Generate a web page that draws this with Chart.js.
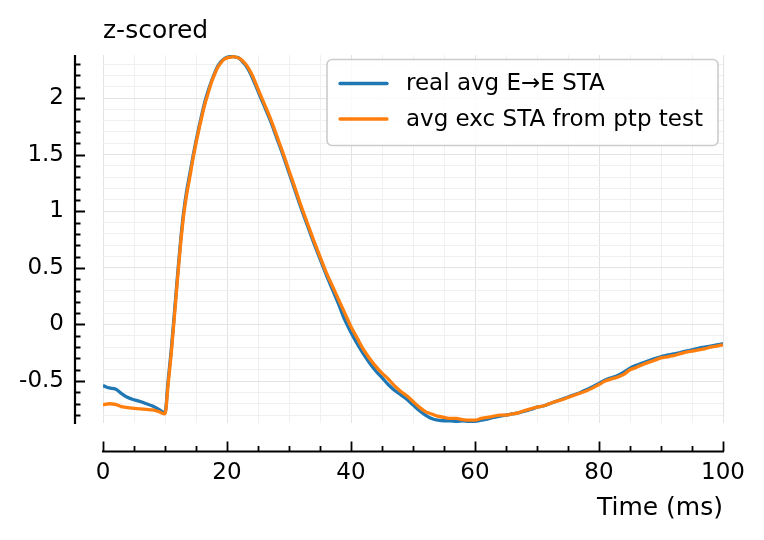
<!DOCTYPE html>
<html>
<head>
<meta charset="utf-8">
<script src="https://cdn.jsdelivr.net/npm/chart.js@4.4.1/dist/chart.umd.min.js"></script>
<style>
  body { margin: 0; background: #fff; }
  #wrap { width: 764px; height: 540px; }
</style>
</head>
<body>
<div id="wrap"><canvas id="myChart" width="764" height="540"></canvas></div>
<script>
// time axis (ms) and the two STA traces
// (half-ms samples through the fast rise and the peak)
const timeMs = [0,1,2,3,4,5,6,7,8,9,
  10,10.5,11,11.5,12,12.5,13,13.5,14,14.5,15,15.5,16,16.5,17,17.5,18,18.5,19,19.5,
  20,20.5,21,21.5,22,22.5,23,23.5,24,
  25,26,27,28,29,30,31,32,33,34,35,36,37,38,39,40,41,42,43,44,45,46,47,48,49,
  50,51,52,53,54,55,56,57,58,59,60,61,62,63,64,65,66,67,68,69,70,71,72,73,74,
  75,76,77,78,79,80,81,82,83,84,85,86,87,88,89,90,91,92,93,94,95,96,97,98,99,100];

const realSTA = [-0.54,-0.56,-0.57,-0.61,-0.645,-0.665,-0.68,-0.70,-0.72,-0.75,
  -0.78,-0.50,-0.23,0.09,0.42,0.73,0.99,1.18,1.33,1.48,1.62,1.75,1.87,1.98,2.07,2.15,2.22,2.28,2.32,2.345,
  2.36,2.365,2.365,2.36,2.35,2.32,2.29,2.245,2.19,
  2.06,1.93,1.80,1.65,1.50,1.34,1.18,1.02,0.87,0.72,0.58,0.44,0.31,0.18,0.04,
  -0.07,-0.17,-0.26,-0.34,-0.41,-0.47,-0.53,-0.58,-0.62,-0.66,
  -0.71,-0.76,-0.80,-0.83,-0.845,-0.85,-0.85,-0.855,-0.85,-0.855,
  -0.855,-0.845,-0.835,-0.82,-0.81,-0.80,-0.79,-0.78,-0.765,-0.75,
  -0.73,-0.72,-0.70,-0.68,-0.66,-0.64,-0.62,-0.60,-0.575,-0.55,
  -0.52,-0.49,-0.47,-0.45,-0.42,-0.385,-0.36,-0.34,-0.32,-0.30,
  -0.285,-0.27,-0.26,-0.25,-0.235,-0.225,-0.21,-0.20,-0.19,-0.18,-0.17];

const ptpSTA = [-0.71,-0.70,-0.705,-0.725,-0.735,-0.74,-0.745,-0.75,-0.755,-0.77,
  -0.79,-0.53,-0.26,0.06,0.39,0.70,0.96,1.15,1.30,1.46,1.60,1.73,1.85,1.96,2.05,2.14,2.21,2.27,2.31,2.34,
  2.355,2.36,2.365,2.36,2.35,2.33,2.30,2.26,2.21,
  2.08,1.95,1.82,1.67,1.52,1.36,1.20,1.04,0.89,0.74,0.60,0.46,0.34,0.22,0.10,
  -0.02,-0.12,-0.22,-0.30,-0.37,-0.43,-0.48,-0.54,-0.59,-0.63,
  -0.68,-0.73,-0.77,-0.79,-0.81,-0.82,-0.83,-0.83,-0.84,-0.845,
  -0.845,-0.83,-0.82,-0.81,-0.80,-0.80,-0.79,-0.78,-0.76,-0.745,
  -0.73,-0.72,-0.70,-0.68,-0.665,-0.645,-0.625,-0.605,-0.585,-0.56,
  -0.53,-0.50,-0.48,-0.465,-0.44,-0.40,-0.38,-0.355,-0.335,-0.315,
  -0.295,-0.285,-0.275,-0.26,-0.245,-0.235,-0.225,-0.215,-0.20,-0.19,-0.18];

const seriesNames = ['real avg E→E STA', 'avg exc STA from ptp test'];
const seriesColors = ['#1f77b4', '#ff7f0e'];

const xMajorTicks = [0, 20, 40, 60, 80, 100];
const xTickLabels = ['0', '20', '40', '60', '80', '100'];
const yMajorTicks = [-0.5, 0, 0.5, 1, 1.5, 2];
const yTickLabels = ['-0.5', '0', '0.5', '1', '1.5', '2'];
const xTitle = 'Time (ms)';
const yTitle = 'z-scored';

const FONT = 'DejaVu Sans';

function isMajor(list, v) {
  return list.some(m => Math.abs(m - v) < 1e-6);
}

// minor ticks every 5 ms and every 0.1 z
const xAllTicks = [];
for (let k = 0; k <= 20; k++) xAllTicks.push(k * 5);
const yAllTicks = [];
for (let k = -8; k <= 23; k++) yAllTicks.push(k / 10);

const decor = {
  id: 'decor',
  afterDraw(chart) {
    const ctx = chart.ctx;
    const a = chart.chartArea;
    const xs = chart.scales.x;
    const ys = chart.scales.y;
    const spineX = a.left - 28;
    const spineY = a.bottom + 28.5;
    ctx.save();
    ctx.strokeStyle = '#000';
    ctx.lineWidth = 2.2;
    ctx.beginPath();
    ctx.moveTo(spineX, a.top);
    ctx.lineTo(spineX, a.bottom + 1);
    ctx.moveTo(a.left - 1, spineY);
    ctx.lineTo(a.right + 1, spineY);
    ctx.stroke();

    // inward tick marks
    ctx.lineWidth = 1.8;
    ctx.beginPath();
    ys.ticks.forEach(t => {
      const y = Math.round(ys.getPixelForValue(t.value)) + 0.5;
      const len = isMajor(yMajorTicks, t.value) ? 10 : 5.5;
      ctx.moveTo(spineX, y);
      ctx.lineTo(spineX + len, y);
    });
    xs.ticks.forEach(t => {
      const x = Math.round(xs.getPixelForValue(t.value)) + 0.5;
      const len = isMajor(xMajorTicks, t.value) ? 10 : 5.5;
      ctx.moveTo(x, spineY);
      ctx.lineTo(x, spineY - len);
    });
    ctx.stroke();

    // axis titles
    ctx.fillStyle = '#000';
    ctx.font = '25px "' + FONT + '"';
    ctx.textBaseline = 'middle';
    ctx.textAlign = 'left';
    ctx.fillText(yTitle, a.left, 31);
    ctx.textAlign = 'right';
    ctx.fillText(xTitle, a.right, 508);

    // legend box in the upper right of the plot
    const bw = 391, bh = 86;
    const bx = a.right - 5 - bw;
    const by = a.top + 4.5;
    ctx.beginPath();
    ctx.roundRect(bx, by, bw, bh, 5);
    ctx.fillStyle = 'rgba(255,255,255,0.85)';
    ctx.fill();
    ctx.strokeStyle = '#cccccc';
    ctx.lineWidth = 1.6;
    ctx.stroke();
    ctx.font = '23px "' + FONT + '"';
    ctx.textAlign = 'left';
    ctx.lineCap = 'round';
    chart.data.datasets.forEach((ds, i) => {
      const ly = by + 24 + i * 35.5;
      ctx.strokeStyle = ds.borderColor;
      ctx.lineWidth = 3.3;
      ctx.beginPath();
      ctx.moveTo(bx + 13, ly);
      ctx.lineTo(bx + 60, ly);
      ctx.stroke();
      ctx.fillStyle = '#000';
      ctx.fillText(ds.label, bx + 79, ly + 1);
    });
    ctx.restore();
  }
};

const ctx = document.getElementById('myChart');

new Chart(ctx, {
  type: 'line',
  data: {
    datasets: [
      {
        label: seriesNames[0],
        data: timeMs.map((t, i) => ({ x: t, y: realSTA[i] })),
        borderColor: seriesColors[0],
        borderWidth: 3.3,
        pointRadius: 0,
        cubicInterpolationMode: 'monotone',
        order: 1
      },
      {
        label: seriesNames[1],
        data: timeMs.map((t, i) => ({ x: t, y: ptpSTA[i] })),
        borderColor: seriesColors[1],
        borderWidth: 3.3,
        pointRadius: 0,
        cubicInterpolationMode: 'monotone',
        order: 0
      }
    ]
  },
  options: {
    responsive: false,
    animation: false,
    layout: { padding: { top: 55, right: 41, left: 0, bottom: 0 } },
    plugins: {
      legend: { display: false },
      tooltip: { enabled: false }
    },
    scales: {
      x: {
        type: 'linear',
        min: 0,
        max: 100,
        afterBuildTicks: s => { s.ticks = xAllTicks.map(v => ({ value: v })); },
        afterFit: s => { s.height = 117; s.paddingLeft = 0; s.paddingRight = 0; },
        border: { display: false },
        grid: {
          drawTicks: false,
          lineWidth: 1,
          color: c => isMajor(xMajorTicks, c.tick.value) ? '#e3e3e3' : '#f0f0f0'
        },
        ticks: {
          autoSkip: false,
          maxRotation: 0,
          minRotation: 0,
          padding: 36.5,
          color: '#000',
          font: { family: FONT, size: 23 },
          callback: v => {
            const k = xMajorTicks.findIndex(m => Math.abs(m - v) < 1e-6);
            return k >= 0 ? xTickLabels[k] : '';
          }
        }
      },
      y: {
        type: 'linear',
        min: -0.87,
        max: 2.38,
        afterBuildTicks: s => { s.ticks = yAllTicks.map(v => ({ value: v })); },
        afterFit: s => { s.width = 103; s.paddingTop = 0; s.paddingBottom = 0; },
        border: { display: false },
        grid: {
          drawTicks: false,
          lineWidth: 1,
          color: c => isMajor(yMajorTicks, c.tick.value) ? '#e3e3e3' : '#f0f0f0'
        },
        ticks: {
          autoSkip: false,
          padding: 39,
          color: '#000',
          font: { family: FONT, size: 23 },
          callback: v => {
            const k = yMajorTicks.findIndex(m => Math.abs(m - v) < 1e-6);
            return k >= 0 ? yTickLabels[k] : '';
          }
        }
      }
    }
  },
  plugins: [decor]
});
</script>
</body>
</html>
